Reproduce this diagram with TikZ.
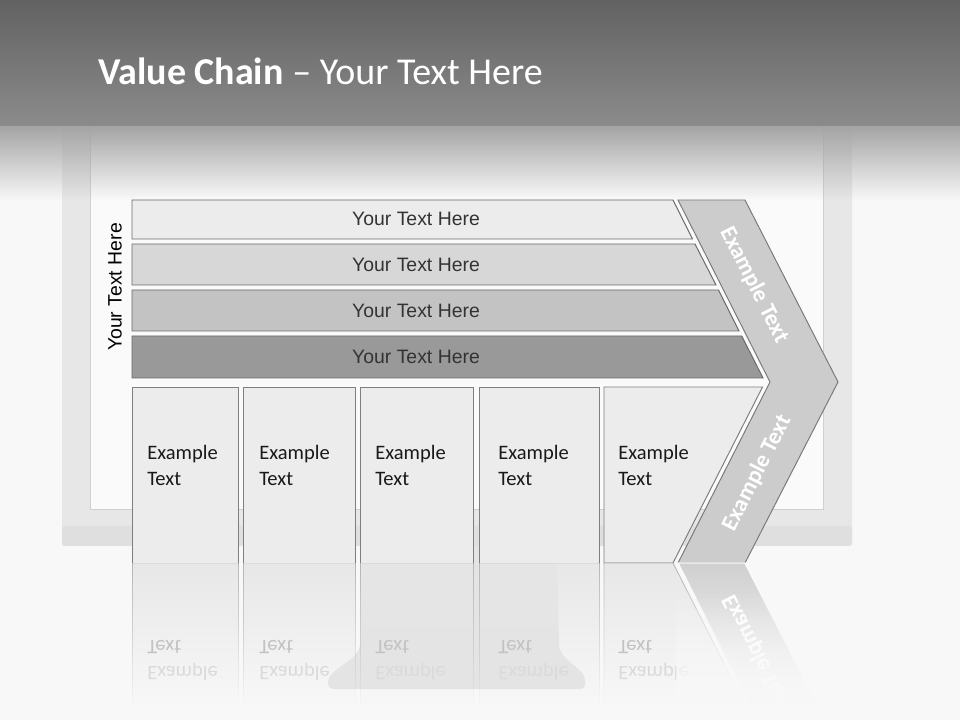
\documentclass[tikz,border=0pt]{standalone}
\usepackage{fontspec}
\setmainfont{Carlito}
\newfontfamily\arialfont{Liberation Sans}
\usetikzlibrary{positioning,fadings}

\definecolor{pagebg}{HTML}{F8F8F8}
\definecolor{headtop}{HTML}{626262}
\definecolor{headbot}{HTML}{8B8B8B}
\definecolor{headshadow}{HTML}{A4A4A4}
\definecolor{framecol}{HTML}{E7E7E7}
\definecolor{framedark}{HTML}{DFDFDF}
\definecolor{screencol}{HTML}{FAFAFA}
\definecolor{screenline}{HTML}{D0D0D0}
\definecolor{standcol}{HTML}{E4E4E4}
\definecolor{barA}{HTML}{ECECEC}
\definecolor{barB}{HTML}{D7D7D7}
\definecolor{barC}{HTML}{C3C3C3}
\definecolor{barD}{HTML}{999999}
\definecolor{barline}{HTML}{6A6A6A}
\definecolor{cellfill}{HTML}{ECECEC}
\definecolor{cellline}{HTML}{7F7F7F}
\definecolor{chevfill}{HTML}{CCCCCC}
\definecolor{chevline}{HTML}{7A7A7A}
\definecolor{reflfill}{HTML}{E6E6E6}
\definecolor{reflline}{HTML}{B0B0B0}
\definecolor{refltextA}{HTML}{C2C2C2}
\definecolor{refltextB}{HTML}{DADADA}

\tikzfading[name=fadedown, top color=transparent!10, bottom color=transparent!100]
\tikzfading[name=shadowdown, top color=transparent!0, bottom color=transparent!100]
\tikzfading[name=fadeup, top color=transparent!100, bottom color=transparent!0]

\begin{document}
\begin{tikzpicture}[
  x=0.025cm, y=-0.025cm,
  bar/.style={draw=barline,line width=0.7pt},
  cell/.style={draw=cellline,fill=cellfill,line width=0.7pt},
  chev/.style={draw=chevline,fill=chevfill,line width=0.7pt},
  bartext/.style={font=\arialfont\fontsize{13.8}{16}\selectfont,text=black!80},
  celltext/.style={font=\fontsize{14.6}{18.5}\selectfont,align=left,anchor=north west,inner sep=0pt,text=black!90},
  chevtext/.style={font=\bfseries\fontsize{16.5}{20}\selectfont,text=white},
  refl/.style={fill=reflfill,path fading=fadedown},
  reflbox/.style={draw=reflline,line width=0.6pt,path fading=fadedown},
  refltext/.style={font=\fontsize{14.6}{18.5}\selectfont,align=left,anchor=north west,inner sep=0pt,yscale=-1}
]
% ---- page and monitor ----
\useasboundingbox (0,0) rectangle (960,720);
\fill[pagebg] (0,0) rectangle (960,720);
\fill[framecol,rounded corners=2pt] (62,100) rectangle (852,546);
\fill[framedark,rounded corners=2pt] (62,526) rectangle (852,546);
\fill[screencol] (90,100) rectangle (823,509);
\draw[screenline,line width=0.6pt] (90,100) -- (90,509) -- (823,509) -- (823,100);
\fill[standcol] (362,546) -- (557,546) -- (559,645) .. controls (561,662) and (585,668) .. (585,680)
  -- (585,684) .. controls (585,688) and (582,689) .. (578,689) -- (335,689)
  .. controls (331,689) and (328,687) .. (328,683) .. controls (328,668) and (358,662) .. (360,645) -- cycle;

% ---- header ----
\shade[top color=headtop,bottom color=headbot] (0,0) rectangle (960,126);
\fill[headshadow,path fading=shadowdown] (0,126) rectangle (960,200);
\node[anchor=base west,inner sep=0pt,text=white,font=\fontsize{27}{32}\selectfont] (title) at (98,85)
  {\textbf{Value Chain} – Your Text Here};

% ---- bars ----
\draw[bar,fill=barA] (132,200) -- (673,200) -- (692.5,239) -- (132,239) -- cycle;
\draw[bar,fill=barB] (132,244) -- (695,244) -- (716,285) -- (132,285) -- cycle;
\draw[bar,fill=barC] (132,290) -- (718.5,290) -- (739,331) -- (132,331) -- cycle;
\draw[bar,fill=barD] (132,336) -- (741.7,336) -- (763,378) -- (132,378) -- cycle;
\node[bartext] (bar1) at (416,219) {Your Text Here};
\node[bartext] (bar2) at (416,265) {Your Text Here};
\node[bartext] (bar3) at (416,311) {Your Text Here};
\node[bartext] (bar4) at (416,356.5) {Your Text Here};
\node[bartext,rotate=90,text=black] (side) at (115,287) {Your Text Here};

% ---- chevron ----
\draw[chev] (678,200) -- (745,200) -- (838,382) -- (745,563) -- (678,563) -- (770,382) -- cycle;
\node[chevtext,rotate=-63.2] (chevup) at (754,285) {Example Text};
\node[chevtext,rotate=63.2] (chevdown) at (757,473) {Example Text};

% ---- cells ----
\draw[cell] (132,387) rectangle (238,563);
\draw[cell] (243,387) rectangle (355,563);
\draw[cell] (360,387) rectangle (473,563);
\draw[cell] (479,387) rectangle (599,563);
\draw[cell] (604,387) -- (762.5,387) -- (673,563) -- (604,563) -- cycle;
\node[celltext] (cell1) at (147,445) {Example\\Text};
\node[celltext] (cell2) at (259,445) {Example\\Text};
\node[celltext] (cell3) at (375,445) {Example\\Text};
\node[celltext] (cell4) at (498,445) {Example\\Text};
\node[celltext] (cell5) at (618,445) {Example\\Text};

% ---- reflections ----
\path[refl] (132,563) rectangle (238,705);
\draw[reflbox] (132,563) -- (132,705) -- (238,705) -- (238,563);
\path[refl] (243,563) rectangle (355,705);
\draw[reflbox] (243,563) -- (243,705) -- (355,705) -- (355,563);
\path[refl] (360,563) rectangle (473,705);
\draw[reflbox] (360,563) -- (360,705) -- (473,705) -- (473,563);
\path[refl] (479,563) rectangle (599,705);
\draw[reflbox] (479,563) -- (479,705) -- (599,705) -- (599,563);
\path[refl] (604,563) -- (673,563) -- (745,705) -- (604,705) -- cycle;
\draw[reflbox] (604,705) -- (604,563) -- (673,563) -- (745,705);
\path[fill=chevfill,path fading=fadedown] (678,563) -- (745,563) -- (817,705) -- (750,705) -- cycle;
\draw[draw=white,line width=1pt,path fading=fadedown] (750,705) -- (678,563) -- (745,563) -- (817,705);
\node[refltext] (refl1) at (147,681) {\color{refltextB}Example\\\color{refltextA}Text};
\node[refltext] (refl2) at (259,681) {\color{refltextB}Example\\\color{refltextA}Text};
\node[refltext] (refl3) at (375,681) {\color{refltextB}Example\\\color{refltextA}Text};
\node[refltext] (refl4) at (498,681) {\color{refltextB}Example\\\color{refltextA}Text};
\node[refltext] (refl5) at (618,681) {\color{refltextB}Example\\\color{refltextA}Text};
\node[chevtext,yscale=-1,rotate=63.2] (reflchev) at (757,653) {Example Text};
\fill[pagebg,path fading=fadeup] (676,590) rectangle (845,705);
\fill[pagebg] (676,705) rectangle (845,720);
\end{tikzpicture}
\end{document}
